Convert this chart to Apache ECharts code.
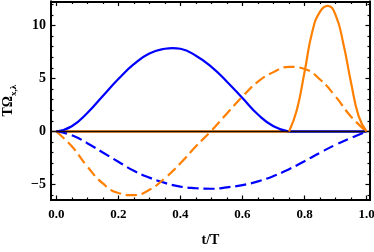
<!DOCTYPE html>
<html><head><meta charset="utf-8">
<script src="https://cdn.jsdelivr.net/npm/echarts@6/dist/echarts.min.js"></script>
<style>html,body{margin:0;padding:0;background:#fff}#c{width:374px;height:252px}</style>
</head><body><div id="c"></div>
<script>
// ---- data ----
const tGrid = [0,0.05,0.1,0.15,0.2,0.25,0.3,0.35,0.4,0.45,0.5,0.55,0.6,0.65,0.7,0.75,0.8,0.85,0.9,0.95,1.0];
const tBump = [0,0.05,0.1,0.15,0.2,0.25,0.3,0.35,0.375,0.4,0.45,0.5,0.55,0.6,0.65,0.7,0.75];
const blueSolidBump = [0,0.5,1.75,3.35,4.95,6.35,7.35,7.8,7.87,7.8,7.15,6.1,4.7,3.15,1.6,0.5,0];
const tZeroBlue = [0.75,1.0];
const blueSolidZero = [0,0];
const blueDashed = [0,-0.35,-1.1,-1.98,-2.85,-3.7,-4.35,-4.85,-5.2,-5.35,-5.4,-5.27,-5.05,-4.7,-4.2,-3.55,-2.8,-2.0,-1.25,-0.6,0];
const orangeDashed = [0,-1.4,-3.3,-4.9,-5.8,-6.0,-5.5,-4.4,-3.0,-1.4,0.08,1.7,3.3,4.7,5.6,6.1,5.9,4.9,3.3,1.4,0];
const tFine = [0.75,0.775,0.8,0.825,0.85,0.875,0.9,0.925,0.95,0.975,1.0];
const orangeSolidPeak = [0,2.0,5.6,9.4,11.3,11.85,11.0,8.3,4.6,1.4,0];
const tZeroOrange = [0,0.75];
const orangeSolidZero = [0,0];
const xMajor = [0,0.2,0.4,0.6,0.8,1.0];
const xMinor = [0.05,0.1,0.15,0.25,0.3,0.35,0.45,0.5,0.55,0.65,0.7,0.75,0.85,0.9,0.95];
const yMajor = [-5,0,5,10];
const yMinor = [-6,-4,-3,-2,-1,1,2,3,4,6,7,8,9,11,12];
const xName = 't/T';
const yName = '{a|TΩ}{b|x,λ}';

const X_MIN = -0.017, X_MAX = 1.011, Y_MIN = -6.46, Y_MAX = 12.26;
const BLUE = '#0000ff', ORANGE = '#ff8000';
const FONT = 'Liberation Serif';

const zip = (xs, ys) => xs.map((x, i) => [x, ys[i]]);

function xAx(pos, ticks, len, labels, extra) {
  return Object.assign({
    type: 'value', position: pos, min: X_MIN, max: X_MAX,
    splitLine: {show: false},
    axisLine: {show: true, onZero: false, lineStyle: {color: '#000', width: 1.8}},
    axisTick: {show: true, inside: true, length: len, customValues: ticks, lineStyle: {color: '#000', width: 1.2}},
    axisLabel: labels ? {show: true, customValues: xMajor, margin: 8, color: '#000', fontFamily: FONT, fontWeight: 'bold', fontSize: 13,
      formatter: v => v.toFixed(1)} : {show: false}
  }, extra || {});
}
function yAx(pos, ticks, len, labels, extra) {
  return Object.assign({
    type: 'value', position: pos, min: Y_MIN, max: Y_MAX,
    splitLine: {show: false},
    axisLine: {show: true, onZero: false, lineStyle: {color: '#000', width: 1.8}},
    axisTick: {show: true, inside: true, length: len, customValues: ticks, lineStyle: {color: '#000', width: 1.2}},
    axisLabel: labels ? {show: true, customValues: yMajor, margin: 5, color: '#000', fontFamily: FONT, fontWeight: 'bold', fontSize: 14,
      formatter: v => (v < 0 ? '\u2212' + (-v) : String(v))} : {show: false}
  }, extra || {});
}

const chart = echarts.init(document.getElementById('c'));
chart.setOption({
  animation: false,
  backgroundColor: '#fff',
  grid: {left: 51, right: 4, top: 1.5, bottom: 52, containLabel: false, outerBoundsMode: 'none'},
  xAxis: [
    xAx('bottom', xMajor, 4.5, true, {name: xName, nameLocation: 'middle', nameGap: 33,
      nameTextStyle: {color: '#000', fontFamily: FONT, fontWeight: 'bold', fontSize: 14}}),
    xAx('top', xMajor, 4.5, false),
    xAx('bottom', xMinor, 2.5, false),
    xAx('top', xMinor, 2.5, false)
  ],
  yAxis: [
    yAx('left', yMajor, 4.5, true, {name: yName, nameLocation: 'middle', nameGap: 33, nameRotate: 90,
      nameTextStyle: {color: '#000', fontFamily: FONT, fontWeight: 'bold',
        rich: {a: {fontFamily: FONT, fontWeight: 'bold', fontSize: 14, lineHeight: 20, verticalAlign: 'middle', color: '#000'},
               b: {fontFamily: FONT, fontWeight: 'bold', fontSize: 9, lineHeight: 20, verticalAlign: 'bottom', color: '#000', padding: [6,0,0,0]}}}}),
    yAx('right', yMajor, 4.5, false),
    yAx('left', yMinor, 2.5, false),
    yAx('right', yMinor, 2.5, false)
  ],
  series: [
    {type: 'line', data: zip(tZeroOrange, orangeSolidZero), showSymbol: false, lineStyle: {color: ORANGE, width: 2.4}, z: 2},
    {type: 'line', data: zip(tGrid, blueDashed), smooth: 0.5, showSymbol: false, lineStyle: {color: BLUE, width: 2.2, type: [11, 5]}, z: 3},
    {type: 'line', data: zip(tGrid, orangeDashed), smooth: 0.5, showSymbol: false, lineStyle: {color: ORANGE, width: 2.2, type: [11, 5]}, z: 3},
    {type: 'line', data: zip(tZeroBlue, blueSolidZero), showSymbol: false, lineStyle: {color: BLUE, width: 2.4}, z: 4},
    {type: 'line', data: zip(tBump, blueSolidBump), smooth: 0.5, showSymbol: false, lineStyle: {color: BLUE, width: 2.2}, z: 4,
      markLine: {silent: true, symbol: 'none', label: {show: false}, lineStyle: {color: '#1a0a00', width: 1.4, type: 'solid'},
        data: [{yAxis: 0}]}},
    {type: 'line', data: zip(tFine, orangeSolidPeak), smooth: 0.5, showSymbol: false, lineStyle: {color: ORANGE, width: 2.2}, z: 5}
  ]
});
</script>
</body></html>
